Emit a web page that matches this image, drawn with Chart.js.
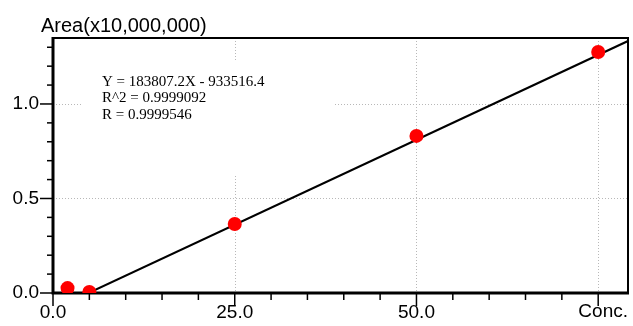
<!DOCTYPE html>
<html>
<head>
<meta charset="utf-8">
<script src="https://cdn.jsdelivr.net/npm/chart.js@4"></script>
<style>
  html, body { margin: 0; padding: 0; background: #fff; }
  #wrap { width: 633px; height: 326px; }
</style>
</head>
<body>
<div id="wrap"><canvas id="calChart"></canvas></div>
<script>
// calibration points (concentration vs area in units of 10,000,000)
const conc = [2, 5, 25, 50, 75];
const area = [0.026, 0.005, 0.365, 0.831, 1.275];

// fitted line end points
const fitX = [4.9, 79.1];
const fitY = [0, 1.333];

const xTickLabels = ['0.0', '25.0', '50.0', ''];
const yTickLabels = ['0.0', '0.5', '1.0'];
const xTitle = 'Conc.';
const yTitle = 'Area(x10,000,000)';
const fitText = ['Y = 183807.2X - 933516.4', 'R^2 = 0.9999092', 'R = 0.9999546'];

const isStep = (v, s) => Math.abs(v / s - Math.round(v / s)) < 1e-6;

const frame = {
    id: 'frame',
    beforeDatasetsDraw(chart) {
        let ctx = chart.ctx, a = chart.chartArea;
        let x = chart.scales.x, y = chart.scales.y;
        ctx.save();
        // dotted grid on the major ticks
        ctx.strokeStyle = '#b8b8b8';
        ctx.lineWidth = 1;
        ctx.setLineDash([1, 2]);
        x.ticks.forEach(t => {
            if (t.value === 0 || !isStep(t.value, 25)) return;
            let px = Math.round(x.getPixelForValue(t.value)) + 0.5;
            ctx.beginPath(); ctx.moveTo(px, a.top); ctx.lineTo(px, a.bottom); ctx.stroke();
        });
        y.ticks.forEach(t => {
            if (t.value === 0 || !isStep(t.value, 0.5)) return;
            let py = Math.round(y.getPixelForValue(t.value)) + 0.5;
            ctx.beginPath(); ctx.moveTo(a.left, py); ctx.lineTo(a.right, py); ctx.stroke();
        });
        ctx.setLineDash([]);

        // white box behind the equation
        ctx.fillStyle = '#fff';
        ctx.fillRect(83, 61, 250, 114);
        ctx.fillStyle = '#000';
        ctx.font = '15px "Liberation Serif", "Times New Roman", serif';
        ctx.textBaseline = 'middle';
        fitText.forEach((s, i) => ctx.fillText(s, 102, 82 + i * 16.5));

        // title of the y axis
        ctx.font = '20px "Liberation Sans", Arial, sans-serif';
        ctx.textBaseline = 'alphabetic';
        ctx.fillText(yTitle, 41, 32);

        // frame: heavy left and bottom axes, thin top and right
        ctx.strokeStyle = '#000';
        ctx.lineWidth = 2;
        ctx.beginPath();
        ctx.moveTo(a.left, a.top); ctx.lineTo(a.right, a.top); ctx.lineTo(a.right, a.bottom);
        ctx.stroke();
        ctx.lineWidth = 3;
        ctx.beginPath();
        ctx.moveTo(a.left, a.top - 1); ctx.lineTo(a.left, a.bottom); ctx.lineTo(a.right + 1, a.bottom);
        ctx.stroke();

        // tick marks outside the frame
        ctx.lineWidth = 1.5;
        x.ticks.forEach(t => {
            if (!isStep(t.value, 5)) return;
            let px = x.getPixelForValue(t.value);
            let len = isStep(t.value, 25) ? 13 : 7;
            ctx.beginPath(); ctx.moveTo(px, a.bottom); ctx.lineTo(px, a.bottom + len); ctx.stroke();
        });
        y.ticks.forEach(t => {
            if (!isStep(t.value, 0.1)) return;
            let py = y.getPixelForValue(t.value);
            let len = isStep(t.value, 0.5) ? 13 : 6;
            ctx.beginPath(); ctx.moveTo(a.left, py); ctx.lineTo(a.left - len, py); ctx.stroke();
        });
        ctx.restore();
    }
};

const tickFont = { family: '"Liberation Sans", Arial, sans-serif', size: 19 };

new Chart(document.getElementById('calChart').getContext('2d'), {
    type: 'scatter',
    data: {
        datasets: [
            {
                label: 'fit',
                data: fitX.map((v, i) => ({ x: v, y: fitY[i] })),
                showLine: true,
                borderColor: '#000',
                borderWidth: 2,
                pointRadius: 0,
                order: 2
            },
            {
                label: 'std',
                data: conc.map((v, i) => ({ x: v, y: area[i] })),
                backgroundColor: '#ff0000',
                borderWidth: 0,
                pointRadius: 7,
                order: 1
            }
        ]
    },
    options: {
        responsive: true,
        maintainAspectRatio: false,
        animation: false,
        events: [],
        layout: { autoPadding: false, padding: { left: 0, right: 5, top: 38, bottom: 0 } },
        plugins: { legend: { display: false }, tooltip: { enabled: false } },
        scales: {
            x: {
                type: 'linear',
                min: 0, max: 79.1,
                grid: { display: false, drawTicks: false },
                border: { display: false },
                afterFit: s => { s.height = 33; s.paddingLeft = 0; s.paddingRight = 0; },
                title: {
                    display: true, text: xTitle, align: 'end', color: '#000',
                    font: { family: '"Liberation Sans", Arial, sans-serif', size: 19 },
                    padding: { top: 0, bottom: 3 }
                },
                ticks: {
                    stepSize: 5, includeBounds: false, autoSkip: false, maxRotation: 0,
                    padding: 8, color: '#000', font: tickFont,
                    callback: v => isStep(v, 25) ? xTickLabels[Math.round(v / 25)] : ''
                }
            },
            y: {
                type: 'linear',
                min: 0, max: 1.349,
                grid: { display: false, drawTicks: false },
                border: { display: false },
                afterFit: s => { s.width = 53; s.paddingTop = 0; s.paddingBottom = 0; },
                ticks: {
                    stepSize: 0.1, includeBounds: false, autoSkip: false,
                    padding: 14, color: '#000', font: tickFont,
                    callback: v => isStep(v, 0.5) ? yTickLabels[Math.round(v / 0.5)] : ''
                }
            }
        }
    },
    plugins: [frame]
});
</script>
</body>
</html>
